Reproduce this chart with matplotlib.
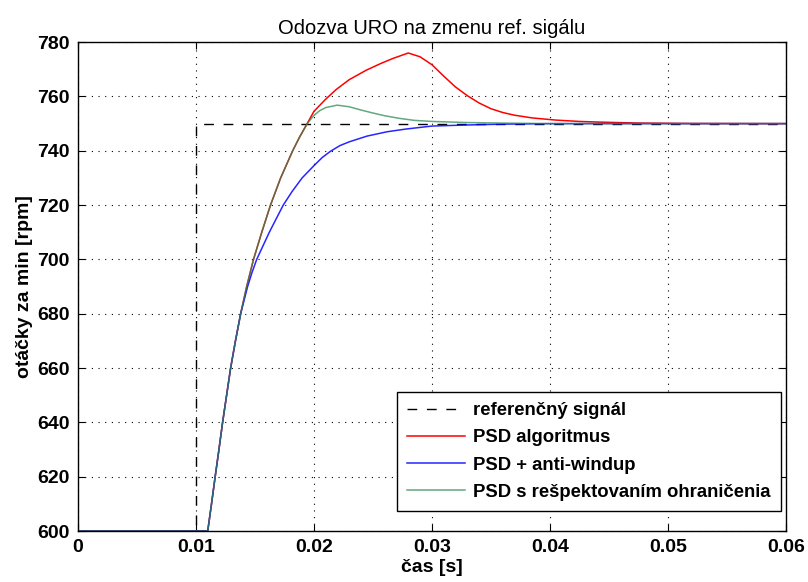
import matplotlib
matplotlib.use('Agg')
from matplotlib import pyplot as plt

# odcitane hodnoty z grafu
t_ref = [0.0, 0.01, 0.01, 0.06]
y_ref = [0.0, 0.0, 750.0, 750.0]

# spolocny nabeh vsetkych troch priebehov
t_rise = [0.0, 0.0110, 0.01132, 0.01163, 0.01195, 0.01226, 0.01260, 0.01294, 0.01335, 0.01379]
y_rise = [600, 600, 610, 620, 630, 640, 650, 660, 670, 680]

t_psd = t_rise + [0.0143, 0.01488, 0.01558, 0.01632, 0.01718, 0.0182, 0.01878, 0.01943,
                  0.02, 0.021, 0.0219, 0.023, 0.02445, 0.0257, 0.0267, 0.028, 0.029, 0.03,
                  0.031, 0.032, 0.033, 0.034, 0.035, 0.036, 0.037, 0.0385, 0.0405, 0.0425,
                  0.0447, 0.0475, 0.052, 0.06]
y_psd = y_rise + [690, 700, 710, 720, 730, 740, 745, 750,
                  754.5, 759.0, 762.6, 766.2, 769.7, 772.2, 774.0, 776.0, 774.6, 771.7,
                  767.5, 763.5, 760.3, 757.6, 755.5, 754.1, 753.1, 752.1, 751.3, 750.8,
                  750.5, 750.2, 750.05, 750]

t_aw = t_rise + [0.01438, 0.01474, 0.01515, 0.01622, 0.0174, 0.01815, 0.0190,
                 0.02, 0.0207, 0.0214, 0.0222, 0.023, 0.0245, 0.0262, 0.0278, 0.03,
                 0.033, 0.036, 0.04, 0.06]
y_aw = y_rise + [690, 695, 700, 710, 720, 725, 730,
                 734.5, 737.5, 739.8, 741.9, 743.3, 745.4, 747.0, 748.0, 749.1,
                 749.5, 749.8, 750, 750]

t_obm = t_rise + [0.0143, 0.01488, 0.01558, 0.01632, 0.01718, 0.0182, 0.01878, 0.01943,
                  0.02, 0.0205, 0.021, 0.02197, 0.023, 0.024, 0.025, 0.026, 0.0273, 0.0285,
                  0.03, 0.0329, 0.036, 0.04, 0.06]
y_obm = y_rise + [690, 700, 710, 720, 730, 740, 745, 750,
                  753.0, 754.8, 755.9, 756.8, 756.2, 755.0, 753.9, 752.9, 751.9, 751.2,
                  750.8, 750.4, 750.2, 750, 750]

x_ticks = [0, 0.01, 0.02, 0.03, 0.04, 0.05, 0.06]
x_labels = ['0', '0.01', '0.02', '0.03', '0.04', '0.05', '0.06']
y_ticks = list(range(600, 781, 20))


def draw():
    plt.rcParams['font.family'] = ['Liberation Sans', 'DejaVu Sans']
    fig = plt.figure(figsize=(8.08, 5.82), dpi=100)
    ax = fig.add_axes([0.0965, 0.0876, 0.876, 0.840])

    ax.plot(t_ref, y_ref, color='black', linestyle=(0, (7, 7)), linewidth=1.0,
            label='referenčný signál')
    ax.plot(t_psd, y_psd, color='red', linewidth=1.1, label='PSD algoritmus')
    ax.plot(t_aw, y_aw, color='blue', linewidth=1.1, alpha=0.85,
            label='PSD + anti-windup')
    ax.plot(t_obm, y_obm, color='#2e8b57', linewidth=1.1, alpha=0.75,
            label='PSD s rešpektovaním ohraničenia')

    ax.set_xlim(0, 0.06)
    ax.set_ylim(600, 780)
    ax.set_xticks(x_ticks)
    ax.set_xticklabels(x_labels)
    ax.set_yticks(y_ticks)
    ax.tick_params(direction='in', top=True, right=True, labelsize=14, length=5,
                   pad=6)
    for lab in ax.get_xticklabels() + ax.get_yticklabels():
        lab.set_fontweight('bold')

    ax.grid(True, linestyle=(0, (1, 5)), color='black', linewidth=0.8)
    for s in ax.spines.values():
        s.set_linewidth(1.0)

    ax.set_title('Odozva URO na zmenu ref. sigálu', fontsize=14.5, pad=6)
    ax.set_xlabel('čas [s]', fontsize=14, fontweight='bold', labelpad=2)
    ax.set_ylabel('otáčky za min [rpm]', fontsize=14, fontweight='bold', labelpad=3)

    leg = ax.legend(loc='lower right', bbox_to_anchor=(0.993, 0.041), fancybox=False,
                    edgecolor='black', framealpha=1, handlelength=3.15,
                    handletextpad=0.45, borderpad=0.55,
                    prop={'size': 13.3, 'weight': 'bold'}, borderaxespad=0,
                    labelspacing=0.55)
    leg.get_frame().set_linewidth(1.0)

    fig.savefig('out.png', dpi=100)


if __name__ == '__main__':
    draw()
